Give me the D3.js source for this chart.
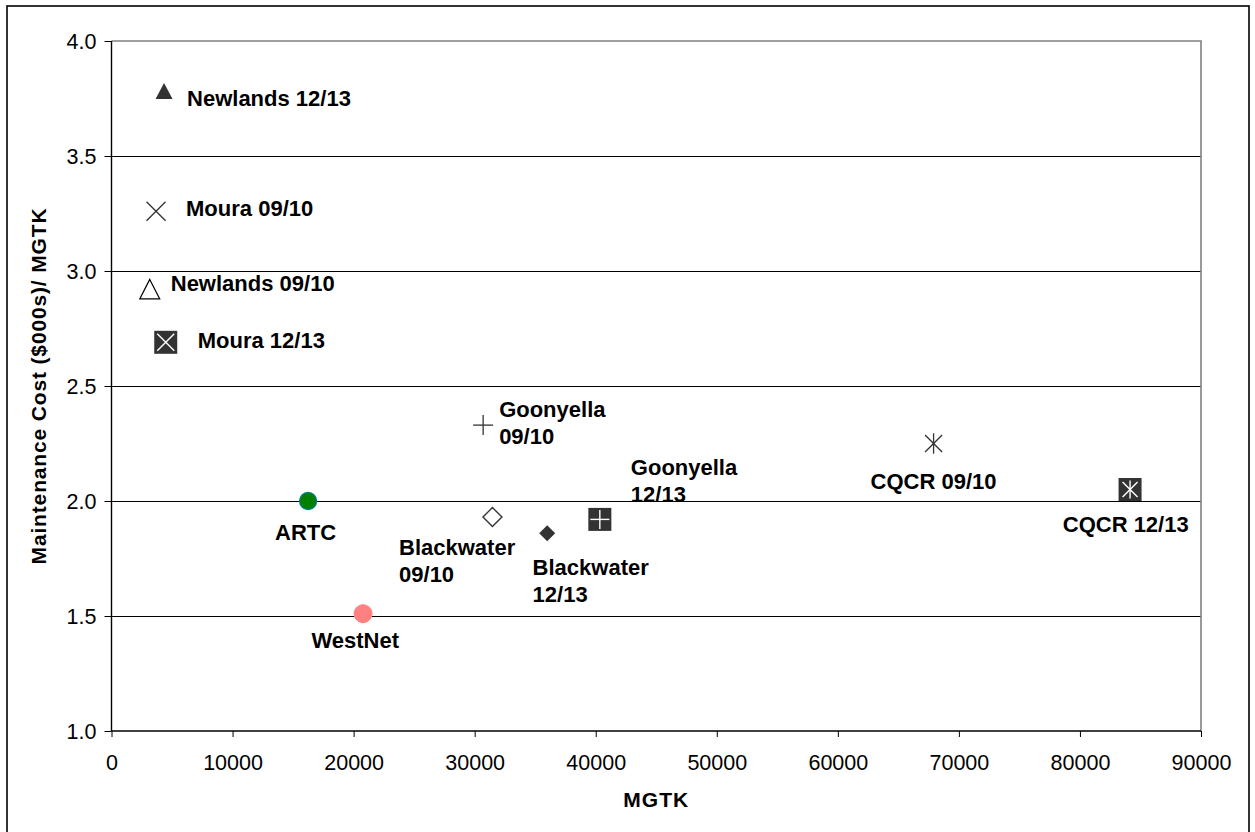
<!DOCTYPE html>
<html><head><meta charset="utf-8">
<script src="https://cdn.jsdelivr.net/npm/d3@7"></script>
<style>
html,body{margin:0;padding:0;background:#fff;}
svg{display:block;font-family:Arial,"Liberation Sans",sans-serif;}
</style></head>
<body>
<svg id="chart" width="1255" height="832"></svg>
<script>
// ---- data ----
const names  = ["Newlands 12/13","Moura 09/10","Newlands 09/10","Moura 12/13","Goonyella 09/10","Goonyella 12/13","ARTC","Blackwater 09/10","Blackwater 12/13","WestNet","CQCR 09/10","CQCR 12/13"];
const mgtk   = [4340, 3680, 3160, 4480, 30700, 40340, 16240, 31470, 35990, 20780, 67910, 84140];
const cost   = [3.78, 3.26, 2.92, 2.69, 2.33, 1.92, 2.00, 1.93, 1.86, 1.51, 2.25, 2.05];
const labelLines = [["Newlands 12/13"],["Moura 09/10"],["Newlands 09/10"],["Moura 12/13"],["Goonyella","09/10"],["Goonyella","12/13"],["ARTC"],["Blackwater","09/10"],["Blackwater","12/13"],["WestNet"],["CQCR 09/10"],["CQCR 12/13"]];
const xTicks = [0,10000,20000,30000,40000,50000,60000,70000,80000,90000];
const yTicks = [1.0,1.5,2.0,2.5,3.0,3.5,4.0];

// ---- styling / layout (not data) ----
const markerType = ["triFill","x","triOpen","sqX","plus","sqPlus","circleG","diamondOpen","diamondFill","circleP","asterisk","sqAst"];
const labelOff = [[23,14.5],[30,5],[21,1.4],[32,6],[16,-8],[31,-44],[-33,39],[-93.4,37.7],[-14.6,42],[-51.6,34.5],[-63,45.5],[-67.3,42]];
const lineGap = 27;

const svg = d3.select("#chart");
const L = 111.5, R = 1201, T = 41, B = 731;
const x = d3.scaleLinear().domain([0,90000]).range([L,R]);
const y = d3.scaleLinear().domain([1,4]).range([B,T]);

// outer frame
svg.append("rect").attr("x",7).attr("y",6).attr("width",1242).attr("height",900)
  .attr("fill","none").attr("stroke","#000").attr("stroke-width",1.6);

// gridlines
svg.append("g").selectAll("line").data(yTicks.filter(d=>d>1 && d<4)).join("line")
  .attr("x1",L).attr("x2",R).attr("y1",d=>Math.round(y(d))+0.5).attr("y2",d=>Math.round(y(d))+0.5)
  .attr("stroke","#000").attr("stroke-width",1).attr("shape-rendering","crispEdges");

// plot border top/right gray
svg.append("path").attr("d",`M${L},${T}H${R}V${B}`).attr("fill","none")
  .attr("stroke","#808080").attr("stroke-width",1.6);

// axes
const xAxis = d3.axisBottom(x).tickValues(xTicks).tickFormat(d3.format("d")).tickSize(6).tickPadding(5);
const gx = svg.append("g").attr("transform",`translate(0,${B})`).call(xAxis);
const yAxis = d3.axisLeft(y).tickValues(yTicks).tickFormat(d3.format(".1f")).tickSize(7).tickPadding(8);
const gy = svg.append("g").attr("transform",`translate(${L},0)`).call(yAxis);
[gx,gy].forEach(g=>{
  g.select(".domain").attr("stroke","#000").attr("stroke-width",1.4);
  g.selectAll(".tick line").attr("stroke","#000").attr("stroke-width",1);
  g.selectAll(".tick text").attr("fill","#000").style("font-size","21.5px").style("font-family","Arial,'Liberation Sans',sans-serif");
});
gx.select(".domain").attr("d",`M${L},0H${R}`);
gy.select(".domain").attr("d",`M0,${B}V${T}`);
gx.selectAll(".tick text").attr("dy",null).attr("dominant-baseline","alphabetic").attr("y",39);
gy.selectAll(".tick text").attr("x",-15).attr("dy","0.36em");

// axis titles
svg.append("text").attr("x",(L+R)/2).attr("y",807).attr("text-anchor","middle")
  .style("font-size","21px").style("font-weight","bold").style("letter-spacing","1px").text("MGTK");
svg.append("text").attr("transform",`translate(46,${(T+B)/2}) rotate(-90)`).attr("text-anchor","middle")
  .style("font-size","21px").style("font-weight","bold").style("letter-spacing","0.85px")
  .text("Maintenance Cost ($000s)/ MGTK");

// markers
const dark = "#333333";
const g = svg.append("g");
names.forEach((n,i)=>{
  const cx = x(mgtk[i]), cy = y(cost[i]);
  const m = g.append("g").attr("transform",`translate(${cx},${cy})`);
  const t = markerType[i];
  const lines = (arr, col, w) => arr.forEach(a=>m.append("line").attr("x1",a[0]).attr("y1",a[1]).attr("x2",a[2]).attr("y2",a[3]).attr("stroke",col).attr("stroke-width",w));
  const X = h=>[[-h,-h,h,h],[-h,h,h,-h]];
  const P = h=>[[-h,0,h,0],[0,-h,0,h]];
  const A = h=>[[-h,-h,h,h],[-h,h,h,-h],[0,-h*1.2,0,h*1.2]];
  if (t==="triFill") m.append("path").attr("d","M0,-8.5L8.5,7.5L-8.5,7.5Z").attr("fill",dark);
  else if (t==="triOpen") m.append("path").attr("d","M0,-10L10,9.5L-10,9.5Z").attr("fill","#fff").attr("stroke","#000").attr("stroke-width",1.2);
  else if (t==="x") lines(X(9.5),dark,1.3);
  else if (t==="plus") lines(P(10),dark,1.3);
  else if (t==="asterisk") lines(A(8.5),dark,1.3);
  else if (t.startsWith("sq")) {
    m.append("rect").attr("x",-11.5).attr("y",-11.5).attr("width",23).attr("height",23).attr("fill",dark);
    const h = 8.5;
    lines(t==="sqX"?X(h):t==="sqPlus"?P(h+1):A(h-1),"#fff",1.4);
  }
  else if (t==="circleG") m.append("circle").attr("r",8.5).attr("fill","#007f00").attr("stroke","#007f7f").attr("stroke-width",1.3);
  else if (t==="circleP") m.append("circle").attr("r",9).attr("fill","#ff8080").attr("stroke","#ff8080").attr("stroke-width",1);
  else if (t==="diamondOpen") m.append("path").attr("d","M0,-9.5L9.5,0L0,9.5L-9.5,0Z").attr("fill","#fff").attr("stroke",dark).attr("stroke-width",1.4);
  else if (t==="diamondFill") m.append("path").attr("d","M0,-8L8,0L0,8L-8,0Z").attr("fill",dark);

  // label
  const lab = g.append("text").attr("x",cx+labelOff[i][0]).attr("y",cy+labelOff[i][1])
    .style("font-size","22px").style("font-weight","bold").attr("fill","#000");
  labelLines[i].forEach((s,k)=>lab.append("tspan").attr("x",cx+labelOff[i][0]).attr("dy",k===0?0:lineGap).text(s));
});
</script>
</body></html>
